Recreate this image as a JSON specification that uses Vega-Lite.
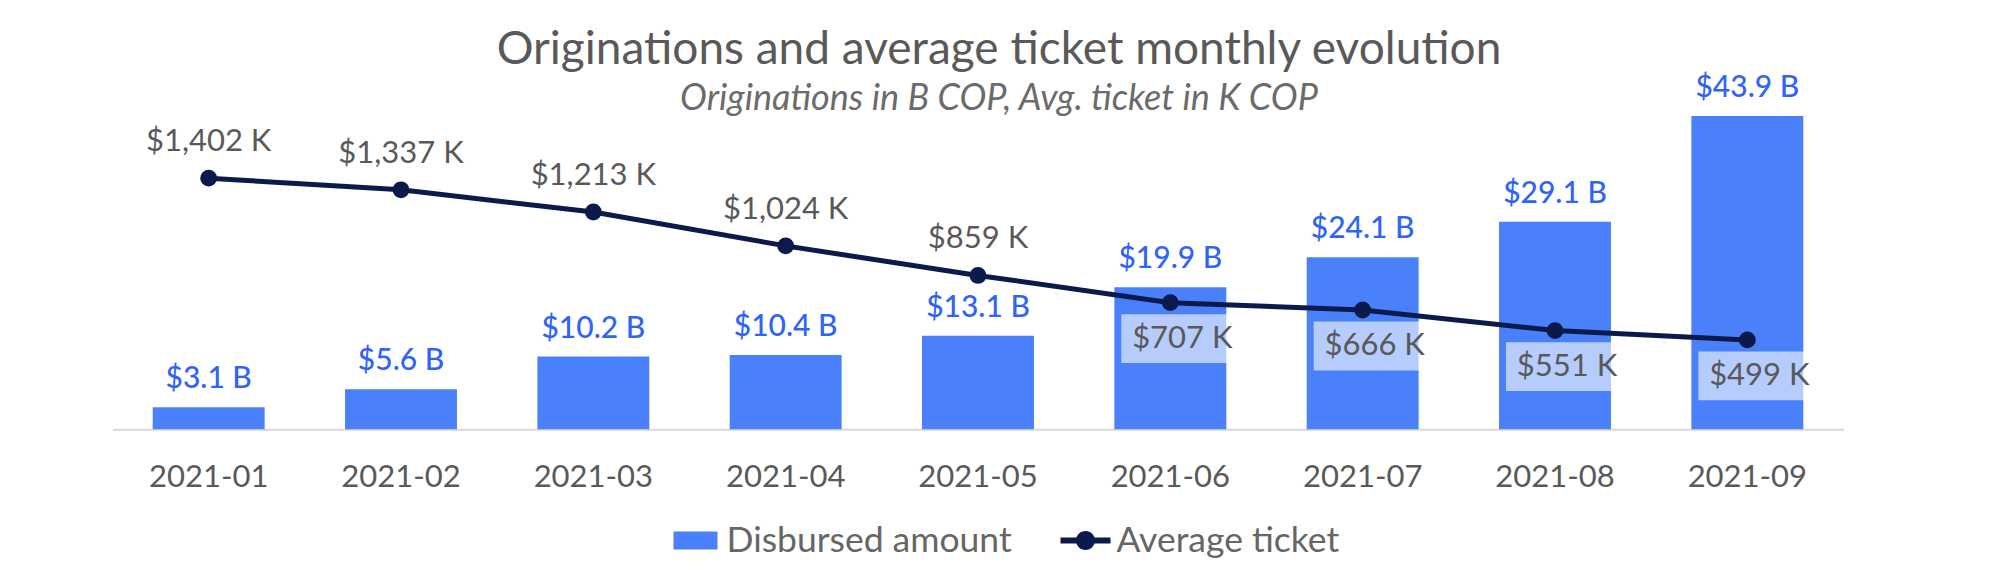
{
  "$schema": "https://vega.github.io/schema/vega-lite/v6.json",
  "width": 1731,
  "height": 314,
  "autosize": "none",
  "padding": {"left": 112.5, "top": 115.3, "right": 156.5, "bottom": 152.7},
  "background": "white",
  "config": {"view": {"stroke": null}, "font": "Lato"},
  "title": {
    "text": "Originations and average ticket monthly evolution",
    "subtitle": "Originations in B COP, Avg. ticket in K COP",
    "anchor": "middle",
    "frame": "group",
    "dx": 21,
    "offset": -45,
    "font": "Lato",
    "fontSize": 46,
    "fontWeight": "normal",
    "color": "#595959",
    "subtitleFont": "Lato",
    "subtitleFontSize": 36,
    "subtitleFontStyle": "italic",
    "subtitleColor": "#6b6b6b",
    "subtitlePadding": 8
  },
  "layer": [
    {
      "data": {
        "values": [
          {"month": "2021-01", "amount": 3.1, "ticket": 1402},
          {"month": "2021-02", "amount": 5.6, "ticket": 1337},
          {"month": "2021-03", "amount": 10.2, "ticket": 1213},
          {"month": "2021-04", "amount": 10.4, "ticket": 1024},
          {"month": "2021-05", "amount": 13.1, "ticket": 859},
          {"month": "2021-06", "amount": 19.9, "ticket": 707},
          {"month": "2021-07", "amount": 24.1, "ticket": 666},
          {"month": "2021-08", "amount": 29.1, "ticket": 551},
          {"month": "2021-09", "amount": 43.9, "ticket": 499}
        ]
      },
      "transform": [
        {"calculate": "'$' + format(datum.amount, '.1f') + ' B'", "as": "amount_label"},
        {"calculate": "'$' + format(datum.ticket, ',') + ' K'", "as": "ticket_label"}
      ],
      "encoding": {
        "x": {
          "field": "month",
          "type": "ordinal",
          "sort": null,
          "title": null,
          "scale": {"paddingInner": 0.418, "paddingOuter": 0.209},
          "axis": {
            "labelAngle": 0,
            "labelFont": "Lato",
            "labelFontSize": 31,
            "labelColor": "#595959",
            "labelBaseline": "middle",
            "labelPadding": 48,
            "ticks": false,
            "tickSize": 0,
            "domainColor": "#d9d9d9",
            "domainWidth": 2,
            "grid": false
          }
        }
      },
      "layer": [
        {
          "mark": {"type": "bar", "color": "#4a80fa"},
          "encoding": {
            "y": {"field": "amount", "type": "quantitative", "scale": {"domain": [0, 44]}, "axis": null}
          }
        },
        {
          "mark": {"type": "text", "baseline": "middle", "align": "center", "dy": -28, "fontSize": 30, "fontWeight": 500, "color": "#2f64f5"},
          "encoding": {
            "y": {"field": "amount", "type": "quantitative", "scale": {"domain": [0, 44]}, "axis": null},
            "text": {"field": "amount_label"}
          }
        },
        {
          "transform": [{"filter": "datum.month >= '2021-06'"}],
          "mark": {"type": "point", "shape": "M-1,-0.4 h2 v0.8 h-2 z", "filled": true, "color": "white", "opacity": 0.6, "size": 14884, "strokeWidth": 0, "xOffset": 12, "yOffset": 36},
          "encoding": {
            "y": {"field": "ticket", "type": "quantitative", "scale": {"domain": [0, 1753]}, "axis": null}
          }
        },
        {
          "mark": {"type": "line", "color": "#0b1a4b", "strokeWidth": 5},
          "encoding": {
            "y": {"field": "ticket", "type": "quantitative", "scale": {"domain": [0, 1753]}, "axis": null}
          }
        },
        {
          "mark": {"type": "circle", "color": "#0b1a4b", "opacity": 1, "size": 283},
          "encoding": {
            "y": {"field": "ticket", "type": "quantitative", "scale": {"domain": [0, 1753]}, "axis": null}
          }
        },
        {
          "transform": [{"filter": "datum.month < '2021-06'"}],
          "mark": {"type": "text", "baseline": "middle", "align": "center", "dy": -36, "fontSize": 31, "color": "#595959"},
          "encoding": {
            "y": {"field": "ticket", "type": "quantitative", "scale": {"domain": [0, 1753]}, "axis": null},
            "text": {"field": "ticket_label"}
          }
        },
        {
          "transform": [{"filter": "datum.month >= '2021-06'"}],
          "mark": {"type": "text", "baseline": "middle", "align": "center", "dx": 12, "dy": 36, "fontSize": 31, "color": "#595959"},
          "encoding": {
            "y": {"field": "ticket", "type": "quantitative", "scale": {"domain": [0, 1753]}, "axis": null},
            "text": {"field": "ticket_label"}
          }
        }
      ],
      "resolve": {"scale": {"y": "independent"}}
    },
    {
      "data": {"values": [{"series": "Disbursed amount"}, {"series": "Average ticket"}]},
      "mark": {"type": "point", "filled": true, "opacity": 0},
      "encoding": {
        "color": {
          "field": "series",
          "type": "nominal",
          "scale": {"domain": ["Disbursed amount", "Average ticket"], "range": ["#4a80fa", "#0b1a4b"]},
          "legend": {
            "title": null, "orient": "none", "legendX": 558, "legendY": 400, "direction": "horizontal",
            "labelFont": "Lato", "labelFontSize": 35.5, "labelColor": "#666666", "labelOffset": 6, "labelLimit": 500,
            "symbolSize": 2500, "symbolOpacity": 1, "symbolStrokeWidth": 0, "columnPadding": 48
          }
        },
        "shape": {
          "field": "series",
          "type": "nominal",
          "scale": {
            "domain": ["Disbursed amount", "Average ticket"],
            "range": [
              "M-0.88,-0.36 h1.76 v0.72 h-1.76 z",
              "M-1,-0.12 h2 v0.24 h-2 z M0.38,0 A0.38,0.38 0 1 1 -0.38,0 A0.38,0.38 0 1 1 0.38,0 z"
            ]
          },
          "legend": {
            "title": null, "orient": "none", "legendX": 558, "legendY": 400, "direction": "horizontal",
            "labelFont": "Lato", "labelFontSize": 35.5, "labelColor": "#666666", "labelOffset": 6, "labelLimit": 500,
            "symbolSize": 2500, "symbolOpacity": 1, "symbolStrokeWidth": 0, "columnPadding": 48
          }
        }
      }
    }
  ],
  "resolve": {"scale": {"y": "independent"}}
}
